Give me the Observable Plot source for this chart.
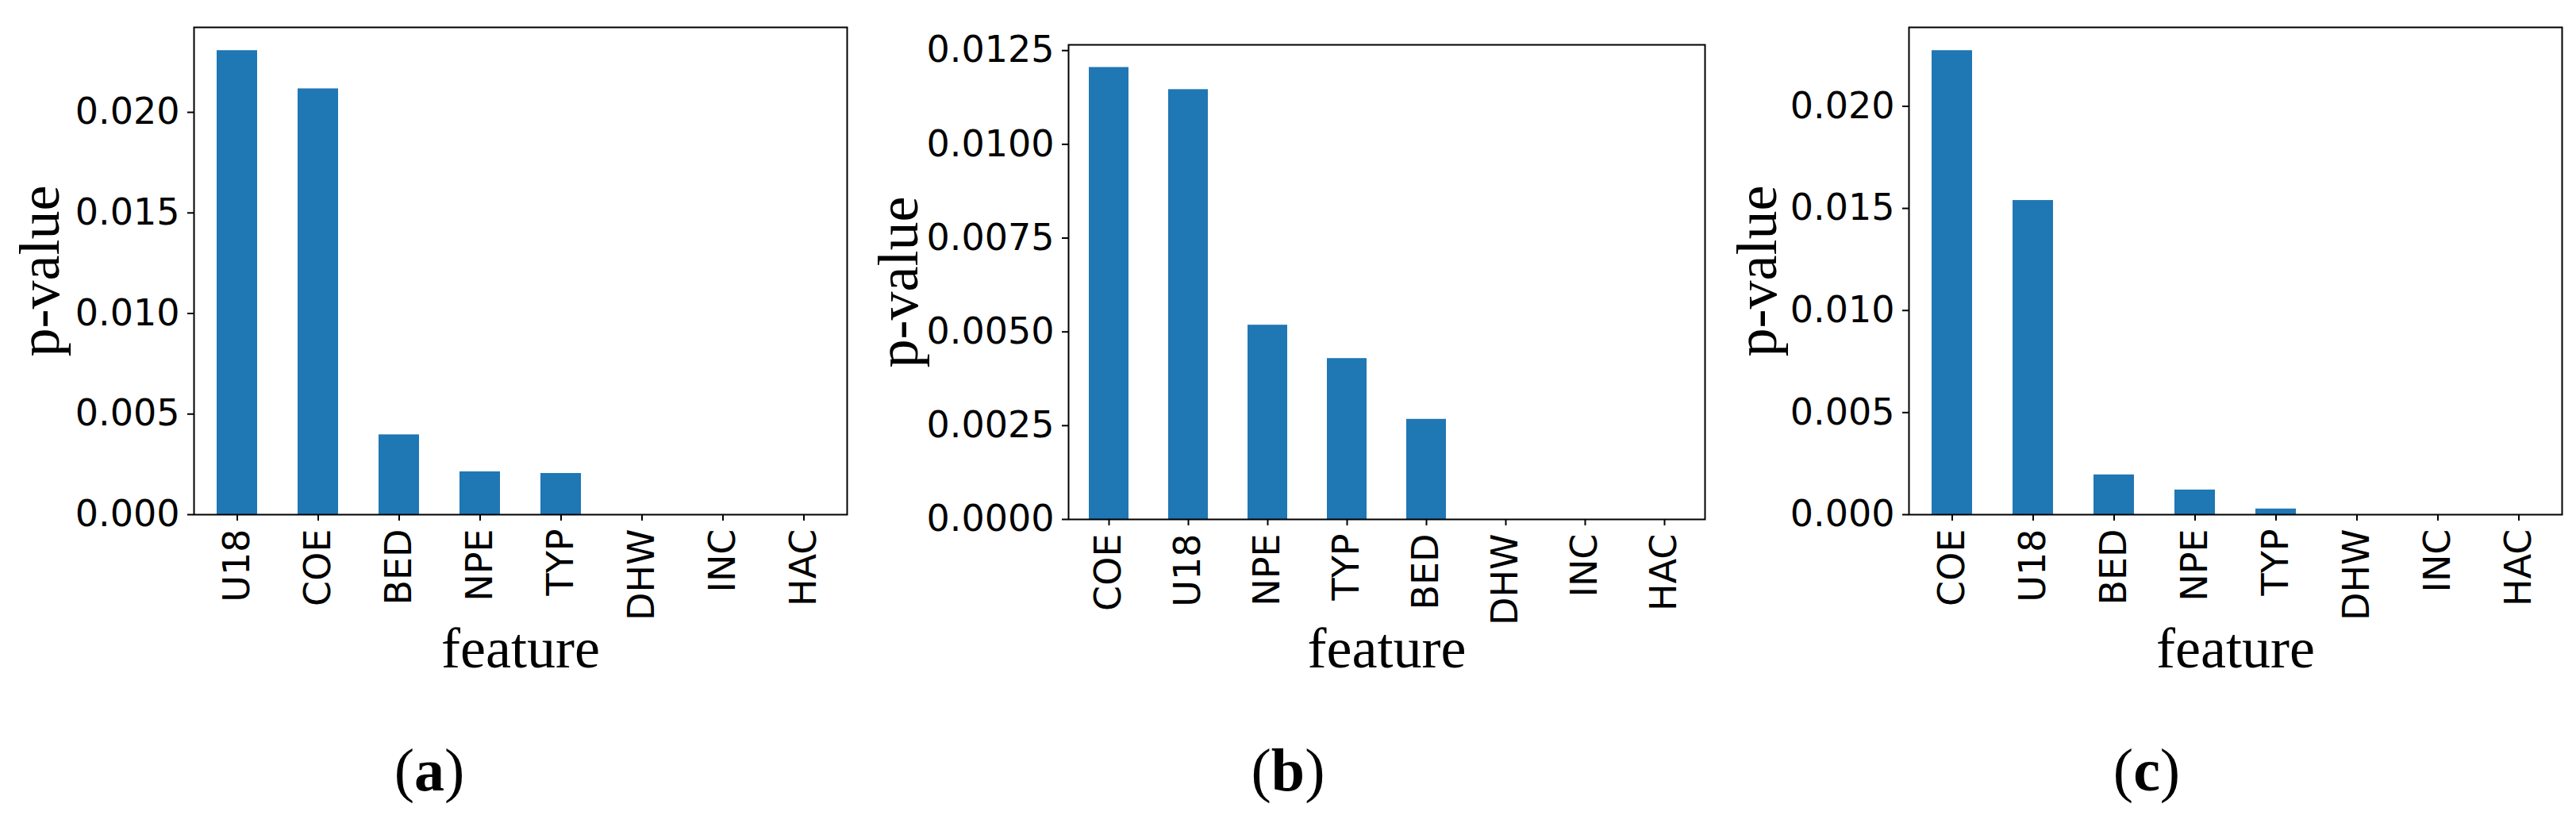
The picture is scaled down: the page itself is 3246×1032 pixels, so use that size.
<!DOCTYPE html>
<html>
<head>
<meta charset="utf-8">
<script src="https://cdn.jsdelivr.net/npm/d3@7"></script>
<script src="https://cdn.jsdelivr.net/npm/@observablehq/plot@0.6"></script>
<style>
  html, body { margin: 0; padding: 0; background: #fff; }
  #fig { position: relative; width: 3246px; height: 1032px; overflow: hidden; background: #fff; }
  .sub { position: absolute; top: 0; width: 1082px; height: 1032px; }
  .sub svg { position: absolute; left: 0; top: 0; }
  .cap { position: absolute; left: 0; width: 1082px; top: 932px; text-align: center;
         font-family: "Liberation Serif", serif; font-size: 76px; line-height: 76px; color: #000; }
  .cap b { font-weight: bold; }
</style>
</head>
<body>
<div id="fig"></div>
<script>
// ---- data ----
const featuresA = ["U18", "COE", "BED", "NPE", "TYP", "DHW", "INC", "HAC"];
const valuesA   = [0.02307, 0.02117, 0.00397, 0.00213, 0.00205, 0, 0, 0];

const featuresB = ["COE", "U18", "NPE", "TYP", "BED", "DHW", "INC", "HAC"];
const valuesB   = [0.01205, 0.01146, 0.00518, 0.00429, 0.00267, 0, 0, 0];

const featuresC = ["COE", "U18", "BED", "NPE", "TYP", "DHW", "INC", "HAC"];
const valuesC   = [0.02273, 0.01539, 0.00195, 0.00121, 0.00028, 0, 0, 0];

const ticksA = [0, 0.005, 0.010, 0.015, 0.020];
const ticksB = [0, 0.0025, 0.0050, 0.0075, 0.0100, 0.0125];
const ticksC = [0, 0.005, 0.010, 0.015, 0.020];

const captions = ["a", "b", "c"];
const yLabel = "p-value";
const xLabel = "feature";

// ---- layout ----
const H = 900;
const panels = [
  {features: featuresA, values: valuesA, ticks: ticksA, fmt: ".3f", left: 0,    mL: 244, mR: 15, mT: 34, bottom: 648},
  {features: featuresB, values: valuesB, ticks: ticksB, fmt: ".4f", left: 1082, mL: 264, mR: 16, mT: 56, bottom: 654},
  {features: featuresC, values: valuesC, ticks: ticksC, fmt: ".3f", left: 2164, mL: 241, mR: 18, mT: 34, bottom: 648}
];

const fig = document.getElementById("fig");
panels.forEach((p, i) => {
  const data = p.features.map((f, j) => ({feature: f, value: p.values[j]}));
  const chart = Plot.plot({
    width: 1082,
    height: H,
    marginLeft: p.mL,
    marginRight: p.mR,
    marginTop: p.mT,
    marginBottom: H - p.bottom,
    style: {fontFamily: "DejaVu Sans", fontSize: "46px", color: "black", background: "white", overflow: "visible"},
    x: {domain: p.features, paddingInner: 0.5, paddingOuter: 0.25, label: null},
    y: {domain: [0, d3.max(p.values) * 1.05], label: null},
    marks: [
      Plot.barY(data, {x: "feature", y: "value", fill: "#1f77b4"}),
      Plot.frame({stroke: "black", strokeWidth: 2}),
      Plot.axisX({tickRotate: -90, tickSize: 8, tickPadding: 10, strokeWidth: 2, stroke: "black", label: null, fontSize: 46}),
      Plot.axisY({ticks: p.ticks, tickFormat: d3.format(p.fmt), tickSize: 8, tickPadding: 10, strokeWidth: 2, stroke: "black", label: null, fontSize: 46}),
      Plot.text([yLabel], {text: d => d, frameAnchor: "left", dx: 50 - p.mL, rotate: -90,
        fontSize: 72, fontFamily: "Liberation Serif", textAnchor: "middle", lineAnchor: "middle", fill: "black"}),
      Plot.text([xLabel], {text: d => d, frameAnchor: "bottom", dy: 817 - p.bottom,
        fontSize: 72, fontFamily: "Liberation Serif", textAnchor: "middle", lineAnchor: "middle", fill: "black"})
    ]
  });
  const sub = document.createElement("div");
  sub.className = "sub";
  sub.style.left = p.left + "px";
  sub.appendChild(chart);
  const cap = document.createElement("div");
  cap.className = "cap";
  cap.innerHTML = "(<b>" + captions[i] + "</b>)";
  sub.appendChild(cap);
  fig.appendChild(sub);
});
</script>
</body>
</html>
